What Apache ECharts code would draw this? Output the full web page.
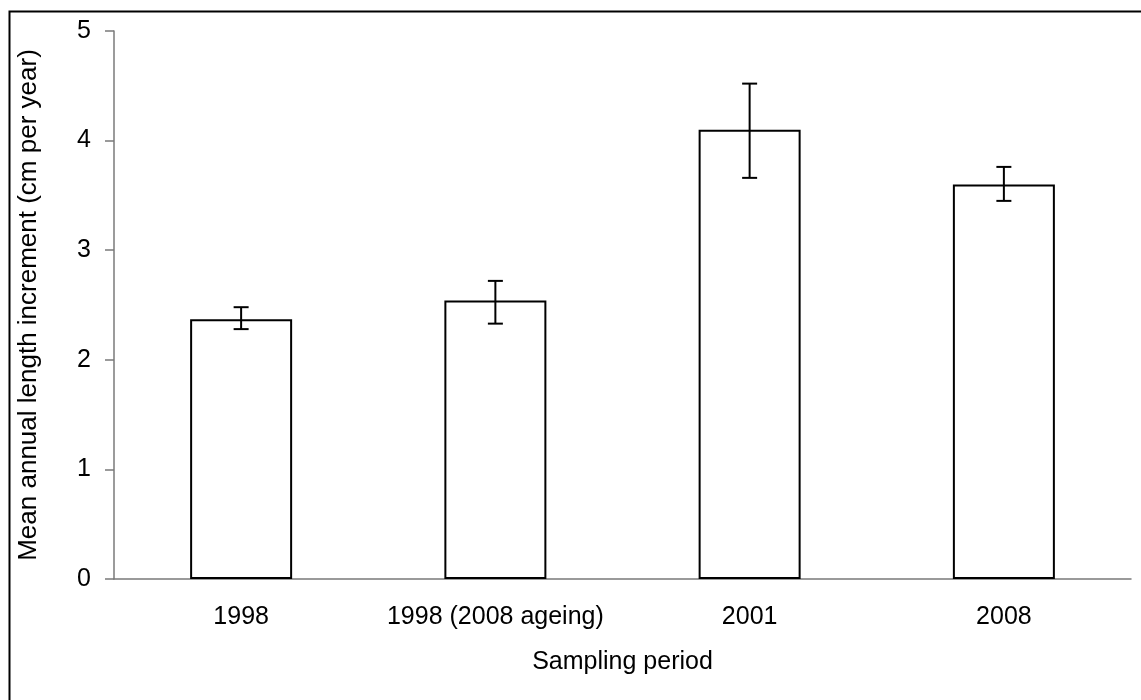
<!DOCTYPE html>
<html>
<head>
<meta charset="utf-8">
<script src="https://cdn.jsdelivr.net/npm/echarts@6/dist/echarts.min.js"></script>
<style>
  html, body { margin: 0; padding: 0; background: #fff; }
  #chart { width: 1141px; height: 700px; }
</style>
</head>
<body>
<div id="chart"></div>
<script>
// Sampling periods and mean annual length increment (cm per year)
const categories = ['1998', '1998 (2008 ageing)', '2001', '2008'];
const means = [2.37, 2.54, 4.10, 3.60];
const errLow = [2.28, 2.33, 3.66, 3.45];
const errHigh = [2.48, 2.72, 4.52, 3.76];
const yTicks = [0, 1, 2, 3, 4, 5];

const FONT = 'Liberation Sans, Arial, sans-serif';
const AXIS_GREY = '#7a7a7a';

const chart = echarts.init(document.getElementById('chart'), null, { renderer: 'canvas' });

const errorData = categories.map((c, i) => [i, errLow[i], errHigh[i]]);

chart.setOption({
  animation: false,
  backgroundColor: '#fff',
  grid: { left: 114, right: 10, top: 31, bottom: 121 },
  graphic: [{
    type: 'rect',
    left: 7, top: 9,
    shape: { width: 1200, height: 800 },
    style: { fill: 'none', stroke: '#000', lineWidth: 2 },
    silent: true
  }],
  xAxis: {
    type: 'category',
    data: categories,
    name: 'Sampling period',
    nameLocation: 'middle',
    nameGap: 71,
    nameTextStyle: { fontFamily: FONT, fontSize: 25, color: '#000', verticalAlign: 'top' },
    axisLine: { lineStyle: { color: AXIS_GREY, width: 1.5 } },
    axisTick: { length: 8, lineStyle: { color: AXIS_GREY, width: 1.5 } },
    axisLabel: { interval: 0, fontFamily: FONT, fontSize: 25, color: '#000', margin: 26 },
    splitLine: { show: false }
  },
  yAxis: {
    type: 'value',
    min: yTicks[0],
    max: yTicks[yTicks.length - 1],
    interval: 1,
    name: 'Mean annual length increment (cm per year)',
    nameLocation: 'middle',
    nameGap: 72,
    nameTextStyle: { fontFamily: FONT, fontSize: 26, color: '#000' },
    axisLine: { show: true, lineStyle: { color: AXIS_GREY, width: 1.5 } },
    axisTick: { show: true, length: 9, lineStyle: { color: AXIS_GREY, width: 1.5 } },
    axisLabel: { fontFamily: FONT, fontSize: 25, color: '#000', margin: 23 },
    splitLine: { show: false }
  },
  series: [
    {
      type: 'bar',
      data: means,
      barWidth: 102,
      itemStyle: { color: '#fff', borderColor: '#000', borderWidth: 2 },
      z: 2
    },
    {
      type: 'custom',
      data: errorData,
      z: 3,
      renderItem: function (params, api) {
        const x = api.value(0);
        const lo = api.coord([x, api.value(1)]);
        const hi = api.coord([x, api.value(2)]);
        const half = 7.5;
        const style = { stroke: '#000', lineWidth: 2, fill: null };
        return {
          type: 'group',
          children: [
            { type: 'line', shape: { x1: hi[0], y1: hi[1], x2: lo[0], y2: lo[1] }, style: style },
            { type: 'line', shape: { x1: hi[0] - half, y1: hi[1], x2: hi[0] + half, y2: hi[1] }, style: style },
            { type: 'line', shape: { x1: lo[0] - half, y1: lo[1], x2: lo[0] + half, y2: lo[1] }, style: style }
          ]
        };
      }
    }
  ]
});
</script>
</body>
</html>
